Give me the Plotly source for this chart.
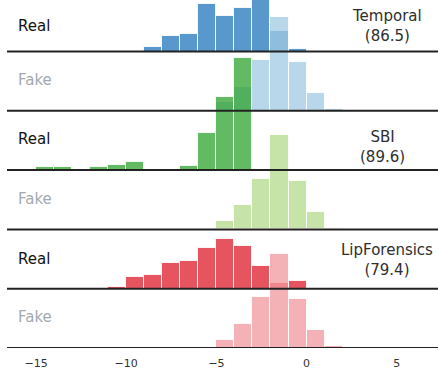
import plotly.graph_objects as go

# Score histograms: unit-width bins, left edges from -15 to 1
bin_left = list(range(-15, 2))

temporal_real = [0, 0, 0, 0, 0, 0, 4.3, 16, 17.7, 48, 35.3, 44, 56, 20.3, 2.7, 0, 0]
sbi_real = [3, 3, 0, 2.8, 4.7, 8.3, 0, 0, 4.3, 37, 73.3, 111.7, 0, 0, 0, 0, 0]
lip_real = [0, 0, 0, 0, 2, 12, 14, 25.6, 27.3, 40.3, 49.6, 43, 23, 5.7, 8, 0, 0]
fake_scores = [0, 0, 0, 0, 0, 0, 0, 0, 0, 0, 8.5, 24, 50.7, 94, 48.8, 17.8, 1.9]

methods = ["Temporal", "SBI", "LipForensics"]
scores = ["86.5", "89.6", "79.4"]
real_hists = [temporal_real, sbi_real, lip_real]
fake_hists = [fake_scores, fake_scores, fake_scores]

real_colors = ["rgba(32,118,187,0.75)", "rgba(46,163,46,0.75)", "rgba(222,28,42,0.75)"]
fake_colors = ["rgba(162,202,228,0.75)", "rgba(179,218,139,0.75)", "rgba(242,152,158,0.75)"]

ROW = 59.3          # vertical distance between ridge baselines
N_ROWS = 6
Y_TOP = 348

fig = go.Figure()
shapes = []
annotations = []

label_y_px = [25.5, 80, 139.3, 199.3, 259.3, 316.7]
method_y_px = [25.5, 146.7, 259.7]
method_x_px = [387, 382.5, 387]

PLOT_L, PLOT_W = 7, 431


def px_to_paper(xp):
    return (xp - PLOT_L) / PLOT_W


for i, (name, score) in enumerate(zip(methods, scores)):
    for j, (kind, hist, color) in enumerate(
        [("Real", real_hists[i], real_colors[i]), ("Fake", fake_hists[i], fake_colors[i])]
    ):
        row = 2 * i + j
        base = (N_ROWS - 1 - row) * ROW
        xs = [b + 0.5 for b, h in zip(bin_left, hist) if h > 0]
        hs = [h for h in hist if h > 0]
        fig.add_trace(go.Bar(
            x=xs, y=hs, base=[base] * len(hs), width=1,
            marker=dict(color=color, line=dict(color="rgba(255,255,255,0.85)", width=1)),
            showlegend=False, hoverinfo="skip",
        ))
        shapes.append(dict(
            type="line", xref="paper", yref="y", x0=0, x1=1, y0=base, y1=base,
            line=dict(color="#222222", width=2), layer="above",
        ))
        annotations.append(dict(
            text=kind, xref="paper", yref="y",
            x=px_to_paper(16), y=Y_TOP - label_y_px[row],
            xanchor="left", yanchor="middle", showarrow=False,
            font=dict(family="DejaVu Sans", size=15,
                      color="#111111" if kind == "Real" else "#a2aab0"),
        ))
    annotations.append(dict(
        text=f"{name}<br>({score})", xref="paper", yref="y",
        x=px_to_paper(method_x_px[i]), y=Y_TOP - method_y_px[i],
        xanchor="center", yanchor="middle", showarrow=False, align="center",
        font=dict(family="DejaVu Sans", size=15, color="#2e2e2e"),
    ))

tick_vals = [-15, -10, -5, 0, 5]
tick_text = ["\u221215", "\u221210", "\u22125", "0", "5"]

fig.update_layout(
    width=438, height=373,
    margin=dict(l=PLOT_L, r=0, t=0, b=25),
    paper_bgcolor="white", plot_bgcolor="white",
    barmode="overlay", bargap=0,
    shapes=shapes, annotations=annotations,
    xaxis=dict(
        range=[-16.61, 7.29], tickvals=tick_vals, ticktext=tick_text,
        showgrid=False, zeroline=False, showline=False,
        ticks="outside", ticklen=5, tickcolor="rgba(0,0,0,0)",
        tickfont=dict(family="DejaVu Sans", size=11, color="#333333"),
    ),
    yaxis=dict(range=[0, Y_TOP], visible=False, showgrid=False, zeroline=False),
)

fig.write_html("out.html")
